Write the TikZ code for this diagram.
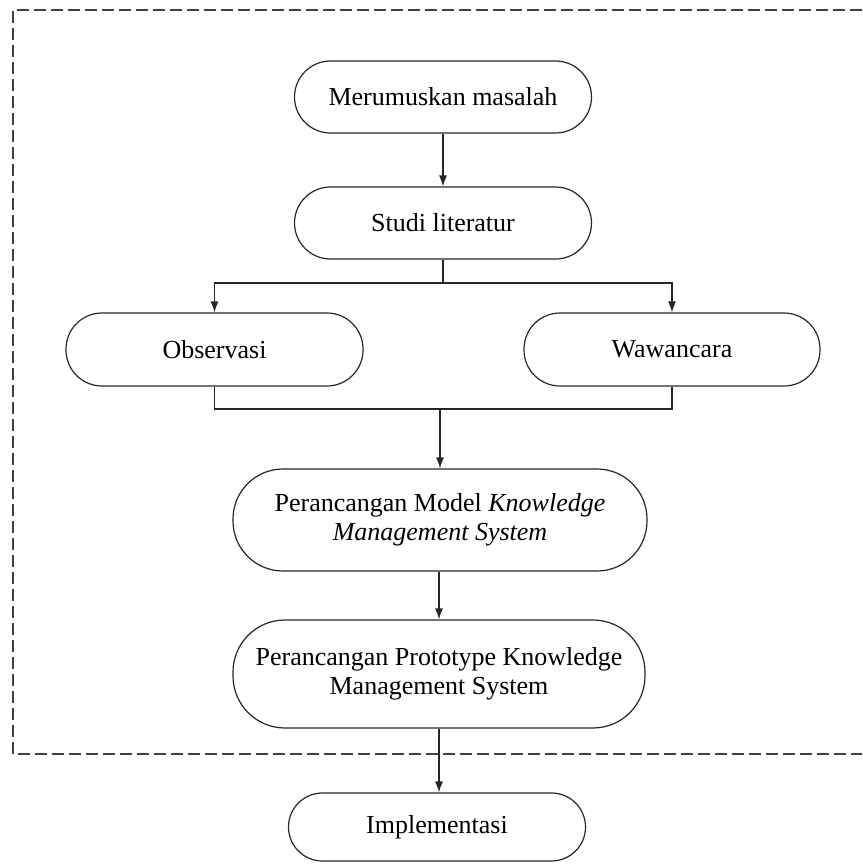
\documentclass[tikz,border=0pt]{standalone}
\usepackage{fontspec}
\setmainfont{Liberation Serif}
\usetikzlibrary{arrows.meta}
\begin{document}
\begin{tikzpicture}[x=1pt,y=-1pt,
  flowbox/.style={draw=black!85,line width=1.2pt,rounded corners=#1,align=center,
     font=\fontsize{26}{29}\selectfont,inner sep=0pt},
  flowbox/.default=36pt,
  conn/.style={draw=black!85,line width=1.2pt},
  arr/.style={conn,-{Latex[length=11pt,width=8pt]}},
  frame/.style={draw=black!75,line width=1.4pt,dash pattern=on 12pt off 5pt}]
\useasboundingbox (0,0) rectangle (862,864);
\draw[frame] (862,10) -- (13,10) -- (13,754) -- (862,754);
\node[flowbox,minimum width=297pt,minimum height=72pt] (m1) at (443,97) {Merumuskan masalah};
\node[flowbox,minimum width=297pt,minimum height=72pt] (m2) at (443,223) {Studi literatur};
\node[flowbox,minimum width=297pt,minimum height=73pt] (obs) at (214.5,349.5) {Observasi};
\node[flowbox,minimum width=296pt,minimum height=73pt] (waw) at (672,349.5) {Wawancara};
\node[flowbox=50pt,minimum width=414pt,minimum height=102pt] (model) at (440,520) {Perancangan Model \textit{Knowledge}\\\textit{Management System}};
\node[flowbox=52pt,minimum width=412pt,minimum height=108pt] (proto) at (439,674) {Perancangan Prototype Knowledge\\Management System};
\node[flowbox=34pt,minimum width=297pt,minimum height=68pt] (impl) at (437,827) {Implementasi};
\coordinate (split) at (443,283);
\coordinate (join) at (440,409);
\draw[arr] (m1.south) -- (m2.north);
\draw[conn] (m2.south) -- (split);
\draw[arr] (split) -| (obs.north);
\draw[arr] (split) -| (waw.north);
\draw[conn] (obs.south) |- (join) -| (waw.south);
\draw[arr] (join) -- (model.north);
\draw[arr] (model.south -| proto.north) -- (proto.north);
\draw[arr] (proto.south) -- (impl.north -| proto.south);
\end{tikzpicture}
\end{document}
